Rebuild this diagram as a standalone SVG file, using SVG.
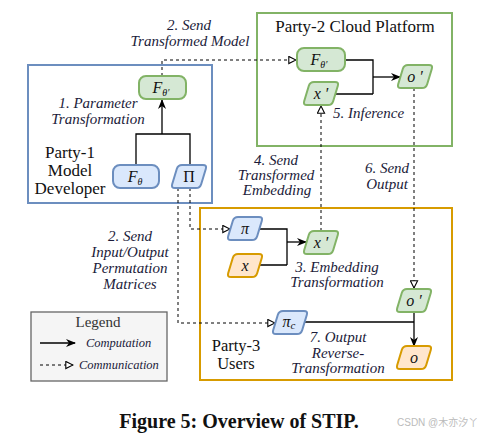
<svg xmlns="http://www.w3.org/2000/svg" width="477" height="435" viewBox="0 0 477 435">
<defs>
<style>
.box{fill:none;stroke-width:2}
.blue{fill:#dae8fc;stroke:#6c8ebf;stroke-width:2}
.green{fill:#d5e8d4;stroke:#82b366;stroke-width:2}
.orange{fill:#ffe6cc;stroke:#d79b00;stroke-width:2}
.solid{fill:none;stroke:#000;stroke-width:1.3}
.dash{fill:none;stroke:#000;stroke-width:1;stroke-dasharray:3 3}
</style>
<marker id="arr" viewBox="0 0 10 8" refX="9" refY="4" markerWidth="10" markerHeight="8" markerUnits="userSpaceOnUse" orient="auto">
<path d="M0,0 L10,4 L0,8 L3,4 Z" fill="#000"/>
</marker>
<marker id="open" viewBox="0 0 10 10" refX="9" refY="5" markerWidth="9" markerHeight="9" markerUnits="userSpaceOnUse" orient="auto">
<path d="M1,1 L9,5 L1,9 Z" fill="#fff" stroke="#000" stroke-width="1.2"/>
</marker>
<path id="pg" d="M11,0 L32,0 Q36,0 34.84,3.83 L30.16,19.17 Q29,23 25,23 L4,23 Q0,23 1.16,19.17 L5.84,3.83 Q7,0 11,0 Z"/>
</defs>
<rect width="477" height="435" fill="#fff"/>

<g id="party1">
<rect class="box" x="28" y="65" width="184" height="138" stroke="#6c8ebf"/>
<g font-family="Liberation Serif, serif" font-size="17" fill="#111" text-anchor="middle">
<text x="70" y="158">Party-1</text>
<text x="70" y="176">Model</text>
<text x="70" y="194">Developer</text>
</g>
</g>
<g id="party2">
<rect class="box" x="257" y="13" width="195" height="133" stroke="#82b366"/>
<text x="355" y="32" font-family="Liberation Serif, serif" font-size="17" fill="#111" text-anchor="middle">Party-2 Cloud Platform</text>
</g>
<g id="party3">
<rect class="box" x="200" y="208" width="252" height="172" stroke="#d79b00"/>
<g font-family="Liberation Serif, serif" font-size="16.5" fill="#111" text-anchor="middle">
<text x="236" y="351">Party-3</text>
<text x="236" y="369">Users</text>
</g>
</g>

<g id="connectors">
<path class="solid" d="M136,165 V134 H190 V165"/>
<path class="solid" d="M162,134 V100" marker-end="url(#arr)"/>
<path class="dash" d="M162,76 V60 H296" marker-end="url(#open)"/>
<path class="solid" d="M345,60 H373 V94 M336,94 H373"/>
<path class="solid" d="M373,77 H400" marker-end="url(#arr)"/>
<path class="dash" d="M321,231 V106" marker-end="url(#open)"/>
<path class="dash" d="M414,88 V288" marker-end="url(#open)"/>
<path class="solid" d="M259,229 H287 V265 M259,265 H287"/>
<path class="solid" d="M287,242 H306" marker-end="url(#arr)"/>
<path class="solid" d="M304,322 H414"/>
<path class="solid" d="M414,312 V346" marker-end="url(#arr)"/>
<path class="dash" d="M190,188 V229 H230" marker-end="url(#open)"/>
<path class="dash" d="M178,188 V323 H275" marker-end="url(#open)"/>
</g>

<g id="labels" font-family="Liberation Serif, serif" font-style="italic" font-size="15" fill="#1b1b3a" text-anchor="middle">
<text x="189" y="30">2. Send</text>
<text x="190" y="46">Transformed Model</text>
<text x="98" y="108">1. Parameter</text>
<text x="98" y="124">Transformation</text>
<text x="333" y="118" text-anchor="start">5. Inference</text>
<text x="276" y="165">4. Send</text>
<text x="276" y="180">Transformed</text>
<text x="277" y="195">Embedding</text>
<text x="387" y="173">6. Send</text>
<text x="387" y="189">Output</text>
<text x="130" y="241">2. Send</text>
<text x="130" y="257">Input/Output</text>
<text x="130" y="273">Permutation</text>
<text x="130" y="289">Matrices</text>
<text x="337" y="272">3. Embedding</text>
<text x="337" y="287">Transformation</text>
<text x="338" y="342">7. Output</text>
<text x="338" y="358">Reverse-</text>
<text x="338" y="373">Transformation</text>
</g>

<g id="nodes" font-family="Liberation Serif, serif" font-style="italic" font-size="16" fill="#111" text-anchor="middle">
<g id="n-ftheta-prime-1">
<rect class="green" x="139" y="76" width="47" height="23" rx="7"/>
<text x="161" y="93">F<tspan font-size="10" dy="3">θ′</tspan></text>
</g>
<g id="n-ftheta">
<rect class="blue" x="113" y="165" width="46" height="23" rx="7"/>
<text x="135" y="182">F<tspan font-size="10" dy="3">θ</tspan></text>
</g>
<g id="n-Pi">
<use href="#pg" class="blue" transform="translate(171,165)"/>
<text x="189" y="182" font-style="normal">Π</text>
</g>
<g id="n-ftheta-prime-2">
<rect class="green" x="297" y="48" width="48" height="23" rx="7"/>
<text x="319" y="65">F<tspan font-size="10" dy="3">θ′</tspan></text>
</g>
<g id="n-xprime-2">
<use href="#pg" class="green" transform="translate(303,82)"/>
<text x="321" y="99">x ′</text>
</g>
<g id="n-oprime-2">
<use href="#pg" class="green" transform="translate(397,65)"/>
<text x="415" y="82">o ′</text>
</g>
<g id="n-pi">
<use href="#pg" class="blue" transform="translate(227,217)"/>
<text x="245" y="234">π</text>
</g>
<g id="n-x">
<use href="#pg" class="orange" transform="translate(227,254)"/>
<text x="245" y="271">x</text>
</g>
<g id="n-xprime-3">
<use href="#pg" class="green" transform="translate(303,231)"/>
<text x="321" y="248">x ′</text>
</g>
<g id="n-oprime-3">
<use href="#pg" class="green" transform="translate(396,289)"/>
<text x="414" y="306">o ′</text>
</g>
<g id="n-o">
<use href="#pg" class="orange" transform="translate(396,346)"/>
<text x="414" y="363">o</text>
</g>
<g id="n-pic">
<use href="#pg" class="blue" transform="translate(272,311)"/>
<text x="289" y="327">π<tspan font-size="11" dy="2">c</tspan></text>
</g>
</g>

<g id="legend">
<rect x="31" y="312" width="136" height="69" fill="#f5f5f5" stroke="#666" stroke-width="1.3"/>
<text x="98" y="327" font-family="Liberation Serif, serif" font-size="15" fill="#333" text-anchor="middle">Legend</text>
<path class="solid" d="M40,343 H75" marker-end="url(#arr)"/>
<text x="86" y="347" font-family="Liberation Serif, serif" font-style="italic" font-size="12.5" fill="#1b1b3a">Computation</text>
<path class="dash" d="M40,365 H73" marker-end="url(#open)"/>
<text x="79" y="369" font-family="Liberation Serif, serif" font-style="italic" font-size="12.5" fill="#1b1b3a">Communication</text>
</g>

<text x="239" y="428" font-family="Liberation Serif, serif" font-weight="bold" font-size="20" fill="#111" text-anchor="middle">Figure 5: Overview of STIP.</text>
<text x="397" y="426" font-family="Liberation Sans, Noto Sans CJK SC, sans-serif" font-size="10" fill="#bbb">CSDN @木亦汐丫</text>
</svg>
